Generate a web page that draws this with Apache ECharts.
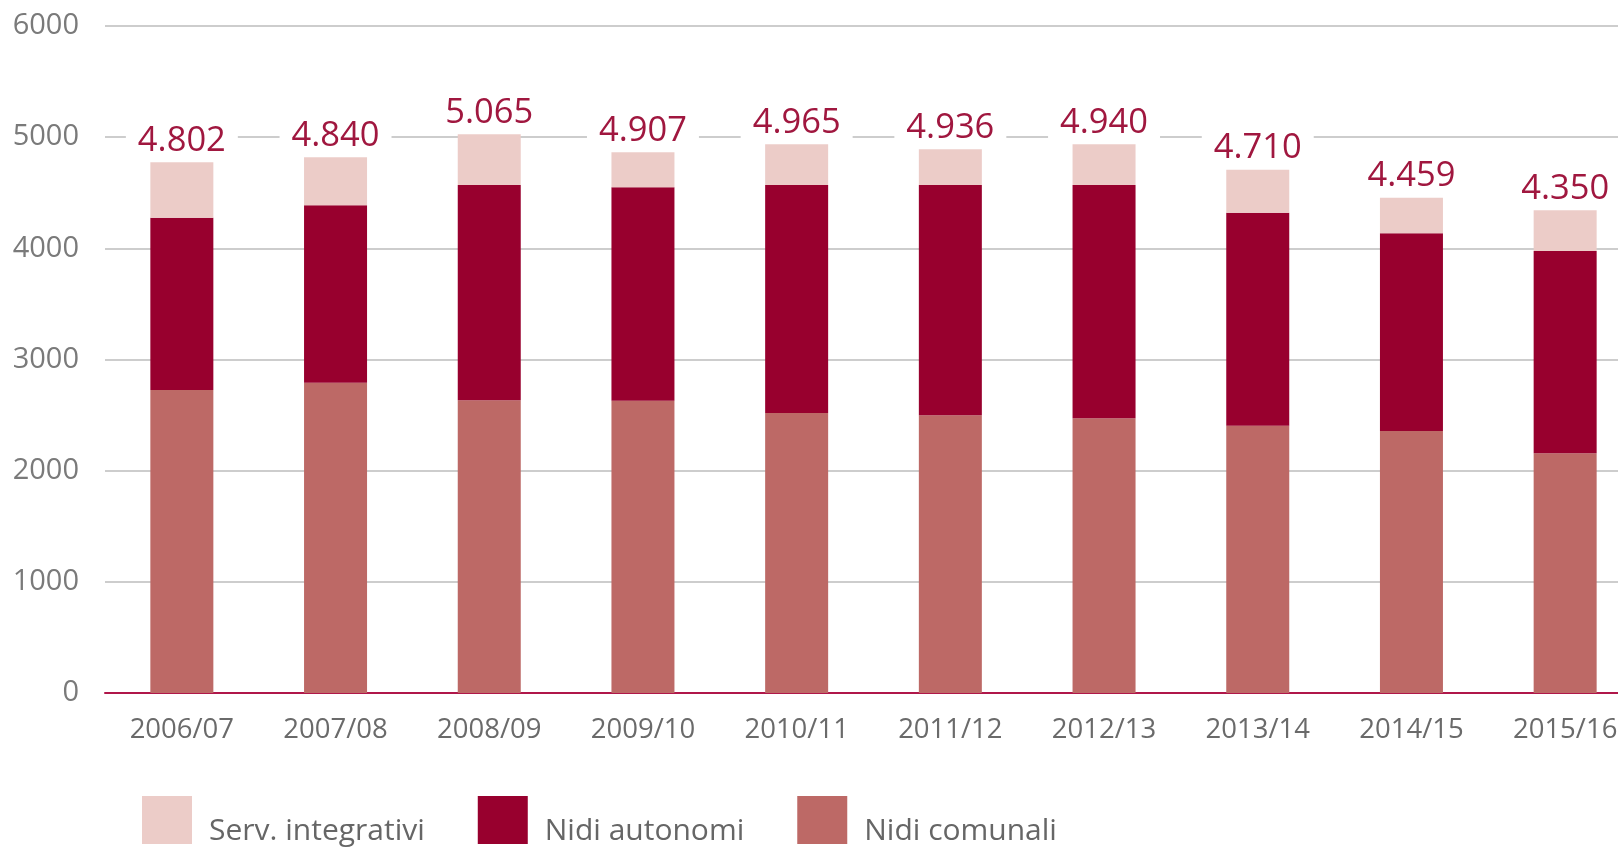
<!DOCTYPE html>
<html>
<head>
<meta charset="utf-8">
<script src="https://cdn.jsdelivr.net/npm/echarts@6/dist/echarts.min.js"></script>
<style>
html,body{margin:0;padding:0;background:#fff;overflow:hidden;width:1618px;height:847px;}
#chart{width:1642px;height:847px;}
</style>
</head>
<body>
<div id="chart"></div>
<script>
const categories = ['2006/07','2007/08','2008/09','2009/10','2010/11','2011/12','2012/13','2013/14','2014/15','2015/16'];
const nidiComunali = [2726, 2791, 2633, 2629, 2519, 2498, 2471, 2404, 2357, 2156];
const nidiAutonomi = [1549, 1596, 1937, 1920, 2051, 2072, 2099, 1916, 1778, 1820];
const servIntegrativi = [499, 432, 456, 315, 366, 321, 366, 387, 320, 366];
const totalLabels = ['4.802','4.840','5.065','4.907','4.965','4.936','4.940','4.710','4.459','4.350'];
const yTicks = [0, 1000, 2000, 3000, 4000, 5000, 6000];

const FONT = '"Open Sans", "DejaVu Sans", sans-serif';
const chart = echarts.init(document.getElementById('chart'), null, {renderer: 'canvas'});
chart.setOption({
  animation: false,
  backgroundColor: '#ffffff',
  grid: {left: 105, right: 0, top: 26, bottom: 154, containLabel: false},
  legend: {
    left: 142, top: 796, padding: 0,
    itemWidth: 50, itemHeight: 48, itemGap: 53,
    icon: 'rect',
    formatter: function (name) { return '{t|' + name + '}'; },
    textStyle: {
      fontFamily: FONT, fontSize: 30, color: '#666666',
      rich: {t: {fontFamily: FONT, fontSize: 30, color: '#666666', padding: [22, 0, 0, 12]}}
    },
    data: ['Serv. integrativi', 'Nidi autonomi', 'Nidi comunali']
  },
  xAxis: {
    type: 'category',
    data: categories,
    axisTick: {show: false},
    axisLine: {lineStyle: {color: '#b0174a', width: 2}},
    axisLabel: {fontFamily: FONT, fontSize: 27.5, color: '#6a6a6a', margin: 23}
  },
  yAxis: {
    type: 'value',
    min: yTicks[0], max: yTicks[yTicks.length - 1], interval: 1000,
    axisLine: {show: false},
    axisTick: {show: false},
    axisLabel: {
      fontFamily: FONT, fontSize: 29, color: '#7a7a7a', margin: 26,
      formatter: function (v) { return String(v); }
    },
    splitLine: {lineStyle: {color: '#bdbdbd', width: 1.5}}
  },
  series: [
    {
      name: 'Nidi comunali', type: 'bar', stack: 'tot', barWidth: 63,
      itemStyle: {color: '#bd6966'},
      data: nidiComunali
    },
    {
      name: 'Nidi autonomi', type: 'bar', stack: 'tot', barWidth: 63,
      itemStyle: {color: '#98002e'},
      data: nidiAutonomi
    },
    {
      name: 'Serv. integrativi', type: 'bar', stack: 'tot', barWidth: 63,
      itemStyle: {color: '#ecccc8'},
      data: servIntegrativi,
      label: {
        show: true, position: 'top', distance: 4,
        fontFamily: FONT, fontSize: 34.5, color: '#a0173f',
        backgroundColor: '#ffffff', padding: [0, 12, 0, 12],
        formatter: function (p) { return totalLabels[p.dataIndex]; }
      }
    }
  ]
});
</script>
</body>
</html>
